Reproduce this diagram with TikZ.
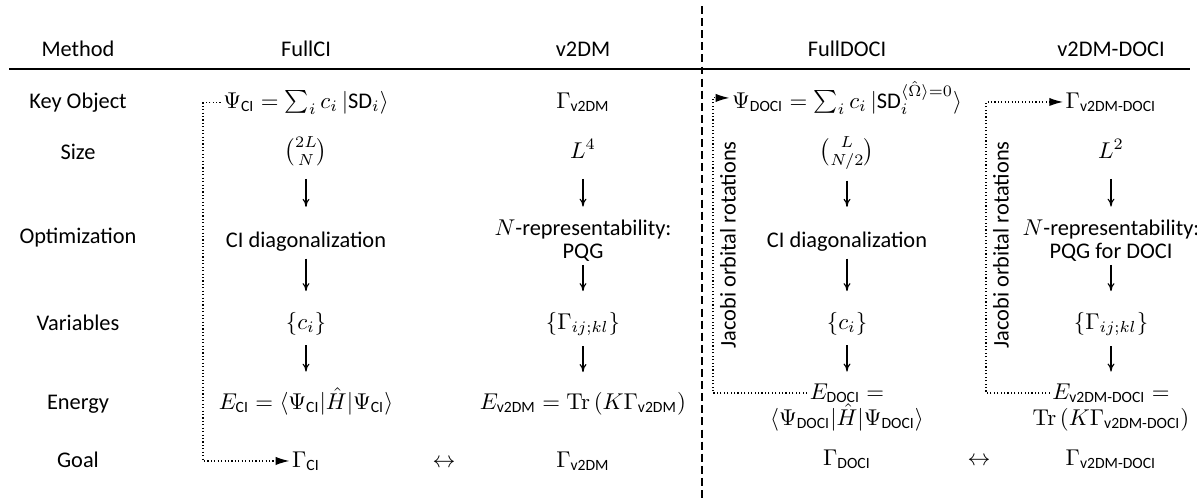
\documentclass[tikz,border=0pt]{standalone}
\usepackage{amsmath}
\usepackage[no-math]{fontspec}
\setmainfont[Scale=0.98]{Carlito}
\usetikzlibrary{arrows.meta,calc}
\begin{document}
\begin{tikzpicture}[x=0.438pt,y=-0.438pt,
  cell/.style={inner sep=1pt, anchor=base},
  varrow/.style={-{To[length=3.5pt,width=3pt]}, line width=0.5pt},
  loopline/.style={densely dotted, -{Latex[length=6pt,width=3.6pt]}, line width=0.5pt},
  jac/.style={rotate=90, anchor=north, inner sep=2pt},
]
\useasboundingbox (0,0) rectangle (1197,501);

% header
\node[cell] (hM) at (78,56) {Method};
\node[cell] (hA) at (306,56) {FullCI};
\node[cell] (hB) at (583,56) {v2DM};
\node[cell] (hC) at (847,56) {FullDOCI};
\node[cell] (hD) at (1111,56) {v2DM-DOCI};
\draw[line width=0.7pt] (9,69) -- (1190,69);
\draw[dashed, dash pattern=on 3.5pt off 1.8pt, line width=0.45pt] (702,6) -- (702,501);

% row labels
\node[cell] (lK) at (78,108) {Key Object};
\node[cell] (lS) at (78,159) {Size};
\node[cell] (lO) at (78,243) {Optimization};
\node[cell] (lV) at (78,330) {Variables};
\node[cell] (lE) at (78,409) {Energy};
\node[cell] (lG) at (78,467) {Goal};

% FullCI
\node[cell] (kA) at (306,108) {$\Psi_{\text{CI}} = \sum_i c_i\,|\text{SD}_i\rangle$};
\node[cell] (sA) at (306,158) {$\binom{2L}{N}$};
\node[cell] (oA) at (306,247) {CI diagonalization};
\node[cell] (vA) at (306,329) {$\{c_i\}$};
\node[cell] (eA) at (306,409) {$E_{\text{CI}} = \langle\Psi_{\text{CI}}|\hat{H}|\Psi_{\text{CI}}\rangle$};
\node[cell] (gA) at (306,467) {$\Gamma_{\text{CI}}$};
\node[cell] (lrAB) at (444,467) {$\leftrightarrow$};

% v2DM
\node[cell] (kB) at (583,108) {$\Gamma_{\text{v2DM}}$};
\node[cell] (sB) at (583,158) {$L^4$};
\node[cell] (oB1) at (583,235) {$N$-representability:};
\node[cell] (oB2) at (583,258) {PQG};
\node[cell] (vB) at (583,329) {$\{\Gamma_{ij;kl}\}$};
\node[cell] (eB) at (583,409) {$E_{\text{v2DM}} = \mathrm{Tr}\left(K\Gamma_{\text{v2DM}}\right)$};
\node[cell] (gB) at (583,467) {$\Gamma_{\text{v2DM}}$};

% FullDOCI
\node[cell] (kC) at (847,108) {$\Psi_{\text{DOCI}} = \sum_i c_i\,|\text{SD}_i^{\langle\hat{\Omega}\rangle=0}\rangle$};
\node[cell] (sC) at (847,158) {$\binom{L}{N/2}$};
\node[cell] (oC) at (847,247) {CI diagonalization};
\node[cell] (vC) at (847,329) {$\{c_i\}$};
\node[cell] (eC1) at (847,399) {$E_{\text{DOCI}} =$};
\node[cell] (eC2) at (847,425) {$\langle\Psi_{\text{DOCI}}|\hat{H}|\Psi_{\text{DOCI}}\rangle$};
\node[cell] (gC) at (847,465) {$\Gamma_{\text{DOCI}}$};
\node[cell] (lrCD) at (979,465) {$\leftrightarrow$};

% v2DM-DOCI
\node[cell] (kD) at (1111,108) {$\Gamma_{\text{v2DM-DOCI}}$};
\node[cell] (sD) at (1111,158) {$L^2$};
\node[cell] (oD1) at (1111,235) {$N$-representability:};
\node[cell] (oD2) at (1111,258) {PQG for DOCI};
\node[cell] (vD) at (1111,329) {$\{\Gamma_{ij;kl}\}$};
\node[cell] (eD1) at (1111,399) {$E_{\text{v2DM-DOCI}} =$};
\node[cell] (eD2) at (1111,425) {$\mathrm{Tr}\left(K\Gamma_{\text{v2DM-DOCI}}\right)$};
\node[cell] (gD) at (1111,465) {$\Gamma_{\text{v2DM-DOCI}}$};

% vertical arrows
\draw[varrow, shorten <=4.4pt, shorten >=9.6pt] (sA) -- (oA);
\draw[varrow, shorten <=2.2pt, shorten >=7.9pt] (oA) -- (vA);
\draw[varrow, shorten <=3.5pt, shorten >=5.7pt] (vA) -- (eA);

\draw[varrow, shorten <=7.9pt, shorten >=4.4pt] (sB) -- (oB1);
\draw[varrow, shorten <=0.5pt, shorten >=7.9pt] (oB2) -- (vB);
\draw[varrow, shorten <=3.5pt, shorten >=7.5pt] (vB) -- (eB);

\draw[varrow, shorten <=3.5pt, shorten >=9.6pt] (sC) -- (oC);
\draw[varrow, shorten <=2.2pt, shorten >=7.9pt] (oC) -- (vC);
\draw[varrow, shorten <=3.5pt, shorten >=4pt] (vC) -- (eC1);

\draw[varrow, shorten <=7.9pt, shorten >=4.4pt] (sD) -- (oD1);
\draw[varrow, shorten <=0.5pt, shorten >=7.9pt] (oD2) -- (vD);
\draw[varrow, shorten <=3.5pt, shorten >=4pt] (vD) -- (eD1);

% dotted loops
\coordinate (cxA) at (203,0);
\coordinate (cxC) at (713,0);
\coordinate (cxD) at (986,0);
\draw[loopline] (kA.west) -- (kA.west -| cxA) |- (gA.west);
\draw[loopline] (eC1.west) -- (eC1.west -| cxC) |- (kC.west);
\draw[loopline] (eD1.west) -- (eD1.west -| cxD) |- (kD.west);

\node[jac] (jC) at (715,245) {Jacobi orbital rotations};
\node[jac] (jD) at (988,245) {Jacobi orbital rotations};
\end{tikzpicture}
\end{document}
